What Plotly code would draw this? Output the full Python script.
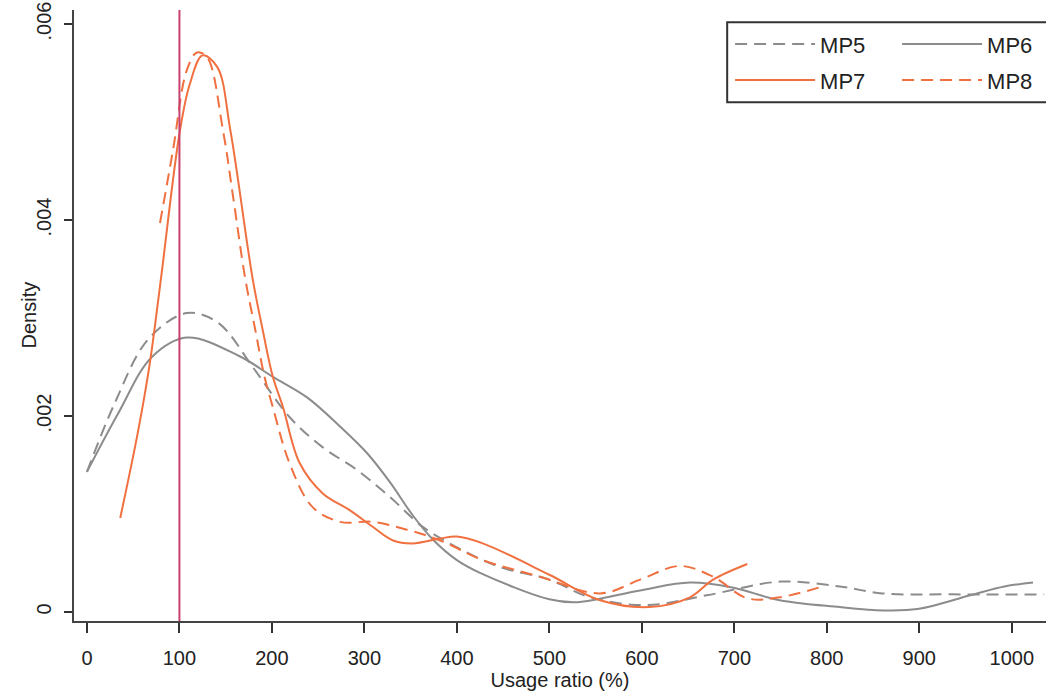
import plotly.graph_objects as go

# kernel density curves
mp5_x = [0, 30, 66, 108, 142, 180, 219, 255, 292, 328, 363, 400, 446, 500, 544, 605, 670, 750, 814, 860, 936,
         1035]
mp5_y = [0.00143, 0.00213, 0.00278, 0.00305, 0.00295, 0.00249, 0.00199, 0.00168, 0.00145, 0.00117, 0.00087,
         0.00066, 0.00046, 0.00033, 0.00015, 0.00007, 0.00017, 0.00031, 0.00026, 0.00019, 0.00018, 0.00018]

mp6_x = [0, 34, 70, 108, 165, 201, 238, 274, 303, 328, 352, 374, 400, 425, 500, 530, 598, 652, 698, 749,
         814, 850, 898, 955, 992, 1023]
mp6_y = [0.00143, 0.00203, 0.0026, 0.0028, 0.00261, 0.0024, 0.00219, 0.00189, 0.00162, 0.00132,
         0.00099, 0.00074, 0.00053, 0.0004, 0.00013, 0.0001, 0.00022, 0.0003, 0.00025, 0.00012, 0.00005,
         0.00002, 0.00003, 0.00017, 0.00026, 0.0003]

mp7_x = [36, 55, 68, 80, 100, 111, 125, 141, 155, 179, 190, 201, 212, 230, 255, 284, 309, 331, 352, 382, 400,
         428, 500, 555, 608, 652, 677, 714]
mp7_y = [0.00096, 0.00183, 0.00254, 0.0034, 0.00488, 0.00538, 0.00568, 0.00556, 0.00492, 0.00341, 0.00288,
         0.0024, 0.00209, 0.00152, 0.00121, 0.00104, 0.00087, 0.00073, 0.0007, 0.00075, 0.00077, 0.0007,
         0.00038, 0.00012, 0.00005, 0.00015, 0.00033, 0.00049]

mp8_x = [79, 93, 108, 119, 130, 147, 158, 171, 182, 192, 201, 219, 244, 274, 309, 346, 382, 428, 490, 555,
         598, 641, 677, 714, 749, 795]
mp8_y = [0.00397, 0.00471, 0.00553, 0.00571, 0.00566, 0.00492, 0.00424, 0.00341, 0.00288, 0.0024, 0.00209,
         0.00152, 0.00107, 0.00092, 0.00092, 0.00084, 0.00073, 0.00053, 0.00036, 0.00019, 0.00033, 0.00047,
         0.00036, 0.00014, 0.00015, 0.00026]

ref_x = 100
x_ticks = list(range(0, 1001, 100))
y_ticks = [0, 0.002, 0.004, 0.006]
y_labels = ["0", ".002", ".004", ".006"]

GRAY = "#8c8c8c"
ORANGE = "#f07040"
FONT = "Liberation Sans Narrow, Arial Narrow, Liberation Sans, Arial, sans-serif"
DASH = "12px,7px"

fig = go.Figure()
fig.add_trace(go.Scatter(x=mp5_x, y=mp5_y, name="MP5", mode="lines", line_shape="spline", legend="legend",
                         line=dict(color=GRAY, width=2, dash=DASH)))
fig.add_trace(go.Scatter(x=mp6_x, y=mp6_y, name="MP6", mode="lines", line_shape="spline", legend="legend",
                         line=dict(color=GRAY, width=2)))
fig.add_trace(go.Scatter(x=mp7_x, y=mp7_y, name="MP7", mode="lines", line_shape="spline", legend="legend2",
                         line=dict(color=ORANGE, width=2)))
fig.add_trace(go.Scatter(x=mp8_x, y=mp8_y, name="MP8", mode="lines", line_shape="spline", legend="legend2",
                         line=dict(color=ORANGE, width=2, dash=DASH)))

fig.add_vline(x=ref_x, line=dict(color="#c8406e", width=2))

# legend frame
fig.add_shape(type="rect", xref="paper", yref="paper", x0=0.672, x1=1.02, y0=0.849, y1=0.98,
              line=dict(color="#333", width=2), fillcolor="rgba(0,0,0,0)", layer="above")

# y title placed by hand (Stata puts it close to the rotated tick labels)
fig.add_annotation(text="Density", xref="paper", yref="paper", x=-46 / 972, y=0.5, xanchor="center",
                   yanchor="middle", textangle=-90, showarrow=False, font=dict(size=20))

leg = dict(orientation="h", xanchor="left", yanchor="middle", bgcolor="rgba(0,0,0,0)",
           font=dict(family=FONT, size=22, color="#222"), itemwidth=80, entrywidth=72,
           entrywidthmode="pixels", tracegroupgap=0, itemclick=False)

fig.update_layout(
    width=1046, height=697,
    margin=dict(l=74, r=0, t=10, b=76, autoexpand=False),
    plot_bgcolor="white", paper_bgcolor="white",
    font=dict(family=FONT, size=20, color="#222"),
    showlegend=True,
    legend=dict(leg, x=0.675, y=0.944),
    legend2=dict(leg, x=0.675, y=0.885),
    xaxis=dict(range=[-14, 1037], tickvals=x_ticks, ticks="outside", ticklen=10, tickwidth=1.5,
               tickcolor="#333", showline=True, linecolor="#444", linewidth=2, showgrid=False,
               zeroline=False, tickfont=dict(size=20), ticklabelstandoff=8,
               title=dict(text="Usage ratio (%)", font=dict(size=20), standoff=4)),
    yaxis=dict(range=[-0.0000918, 0.006143], tickvals=y_ticks, ticktext=y_labels, tickangle=-90,
               ticks="outside", ticklen=8, tickwidth=1.5, tickcolor="#333", showline=True,
               linecolor="#444", linewidth=2, showgrid=False, zeroline=False, tickfont=dict(size=20),
               ticklabelstandoff=5, ticklabeloverflow="allow"),
)

# drop the page's default body margin so the figure sits at the window corner
fig.write_html("out.html", config={"displayModeBar": False},
               post_script="document.body.style.margin='0';")
